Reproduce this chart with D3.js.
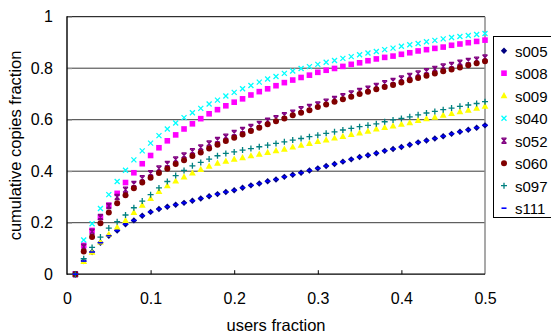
<!DOCTYPE html>
<html>
<head>
<meta charset="utf-8">
<script src="https://cdn.jsdelivr.net/npm/d3@7"></script>
<style>
  html, body { margin: 0; padding: 0; background: #fff; }
  svg { display: block; font-family: "Liberation Sans", Arial, Helvetica, sans-serif; }
</style>
</head>
<body>
<svg id="chart" width="551" height="335"></svg>
<script>
// ---------- data ----------
const usersFraction = [0.01,0.02,0.03,0.04,0.05,0.06,0.07,0.08,0.09,0.10,
  0.11,0.12,0.13,0.14,0.15,0.16,0.17,0.18,0.19,0.20,
  0.21,0.22,0.23,0.24,0.25,0.26,0.27,0.28,0.29,0.30,
  0.31,0.32,0.33,0.34,0.35,0.36,0.37,0.38,0.39,0.40,
  0.41,0.42,0.43,0.44,0.45,0.46,0.47,0.48,0.49,0.50];

const s005 = [0,0.051,0.086,0.122,0.149,0.170,0.194,0.209,0.227,0.242,0.253,0.262,0.270,
  0.277,0.285,0.294,0.303,0.311,0.319,0.326,0.336,0.345,0.352,0.361,0.368,
  0.378,0.386,0.394,0.403,0.411,0.420,0.428,0.437,0.446,0.455,0.462,0.470,0.479,
  0.486,0.494,0.503,0.512,0.519,0.527,0.536,0.545,0.553,0.561,0.569,0.578];
const s008 = [0,0.112,0.170,0.221,0.268,0.314,0.356,0.394,0.429,0.461,0.491,0.518,0.541,
  0.564,0.584,0.604,0.623,0.639,0.654,0.668,0.681,0.696,0.709,0.720,0.732,
  0.744,0.754,0.764,0.773,0.784,0.792,0.799,0.807,0.815,0.821,0.829,0.836,0.842,
  0.847,0.854,0.860,0.867,0.872,0.877,0.882,0.889,0.894,0.899,0.904,0.909];
const s009 = [0,0.050,0.086,0.125,0.155,0.183,0.209,0.240,0.268,0.294,0.322,0.344,0.362,
  0.378,0.393,0.407,0.420,0.431,0.439,0.447,0.453,0.460,0.466,0.473,0.480,
  0.486,0.494,0.501,0.508,0.516,0.522,0.529,0.535,0.543,0.549,0.556,0.564,0.570,
  0.576,0.583,0.589,0.597,0.604,0.610,0.618,0.624,0.631,0.637,0.645,0.653];
const s040 = [0,0.133,0.196,0.255,0.309,0.360,0.404,0.444,0.479,0.509,0.538,0.564,0.587,
  0.608,0.627,0.644,0.661,0.676,0.692,0.706,0.720,0.733,0.746,0.758,0.768,
  0.780,0.789,0.799,0.806,0.815,0.823,0.830,0.838,0.845,0.852,0.859,0.865,0.872,
  0.878,0.885,0.891,0.896,0.903,0.908,0.914,0.919,0.923,0.927,0.931,0.935];
const s052 = [0,0.106,0.165,0.222,0.265,0.300,0.328,0.350,0.372,0.392,0.410,0.428,0.445,
  0.461,0.477,0.492,0.507,0.521,0.534,0.548,0.560,0.571,0.583,0.596,0.605,
  0.617,0.627,0.640,0.649,0.659,0.670,0.680,0.691,0.702,0.711,0.720,0.731,0.741,
  0.750,0.760,0.770,0.779,0.788,0.797,0.806,0.812,0.821,0.828,0.833,0.841];
const s060 = [0,0.088,0.144,0.198,0.240,0.276,0.307,0.334,0.356,0.375,0.393,0.410,0.428,
  0.443,0.459,0.473,0.488,0.503,0.517,0.530,0.543,0.556,0.569,0.582,0.594,
  0.605,0.617,0.627,0.637,0.649,0.659,0.670,0.679,0.689,0.700,0.709,0.718,0.727,
  0.735,0.744,0.753,0.762,0.771,0.779,0.788,0.795,0.803,0.811,0.819,0.827];
const s097 = [0,0.060,0.104,0.144,0.179,0.204,0.230,0.258,0.284,0.309,0.335,0.360,0.383,
  0.403,0.421,0.434,0.447,0.460,0.469,0.475,0.482,0.488,0.495,0.501,0.508,
  0.514,0.521,0.527,0.534,0.540,0.547,0.553,0.560,0.566,0.573,0.578,0.584,0.592,
  0.599,0.605,0.611,0.619,0.626,0.632,0.639,0.645,0.652,0.657,0.663,0.670];
const s111 = [0,0.051,0.086,0.122,0.149,0.170,0.194,0.209,0.227,0.242,0.253,0.262,0.270,
  0.277,0.285,0.294,0.303,0.311,0.319,0.326,0.336,0.345,0.352,0.361,0.368,
  0.378,0.386,0.394,0.403,0.411,0.420,0.428,0.437,0.446,0.455,0.462,0.470,0.479,
  0.486,0.494,0.503,0.512,0.519,0.527,0.536,0.545,0.553,0.561,0.569,0.578];

const seriesNames = ["s005","s008","s009","s040","s052","s060","s097","s111"];
const seriesValues = [s005, s008, s009, s040, s052, s060, s097, s111];
const xTicks = [0, 0.1, 0.2, 0.3, 0.4, 0.5];
const yTicks = [0, 0.2, 0.4, 0.6, 0.8, 1];
const xTickLabels = ["0","0.1","0.2","0.3","0.4","0.5"];
const yTickLabels = ["0","0.2","0.4","0.6","0.8","1"];
const xTitle = "users fraction";
const yTitle = "cumulative copies fraction";

// ---------- styles ----------
const colors = ["#000080","#ff00ff","#ffff00","#00ffff","#800080","#800000","#008080","#0000ff"];
const shapes = ["diamond","square","triangle","x","star","circle","plus","dash"];

const svg = d3.select("#chart");
const L = 67, R = 485, T = 16.7, B = 274.2;
const x = d3.scaleLinear().domain([0, 0.5]).range([L, R]);
const y = d3.scaleLinear().domain([0, 1]).range([B, T]);

// gridlines
svg.append("g").selectAll("line").data(yTicks.filter(d => d > 0 && d < 1)).join("line")
  .attr("x1", L).attr("x2", R).attr("y1", d => y(d)).attr("y2", d => y(d))
  .attr("stroke", "#3a3a3a").attr("stroke-width", 1);

// frame
svg.append("line").attr("x1", L).attr("x2", R).attr("y1", T).attr("y2", T).attr("stroke", "#000").attr("stroke-width", 1);
svg.append("line").attr("x1", R).attr("x2", R).attr("y1", T).attr("y2", B).attr("stroke", "#8c8c8c").attr("stroke-width", 1.5);

// axes
const xAxis = d3.axisBottom(x).tickValues(xTicks).tickSize(-4).tickPadding(18)
  .tickFormat((d, i) => xTickLabels[i]);
const gx = svg.append("g").attr("transform", `translate(0,${B})`).call(xAxis);
gx.select(".domain").remove();
gx.selectAll(".tick line").attr("stroke", "#000").filter(d => d === 0 || d === 0.5).remove();
gx.selectAll(".tick text").attr("font-size", 16).attr("fill", "#000")
  .attr("font-family", '"Liberation Sans", Arial, sans-serif');

const yAxis = d3.axisLeft(y).tickValues(yTicks).tickSize(-5).tickPadding(14)
  .tickFormat((d, i) => yTickLabels[i]);
const gy = svg.append("g").attr("transform", `translate(${L},0)`).call(yAxis);
gy.select(".domain").remove();
gy.selectAll(".tick line").attr("stroke", "#999").filter(d => d === 0).remove();
gy.selectAll(".tick text").attr("font-size", 16).attr("fill", "#000")
  .attr("font-family", '"Liberation Sans", Arial, sans-serif');

svg.append("line").attr("x1", L).attr("x2", R).attr("y1", B).attr("y2", B).attr("stroke", "#000").attr("stroke-width", 1.2);
svg.append("line").attr("x1", L).attr("x2", L).attr("y1", T - 0.5).attr("y2", B + 0.5).attr("stroke", "#000").attr("stroke-width", 1.4);

// titles
svg.append("text").attr("x", (L + R) / 2).attr("y", 330.5).attr("text-anchor", "middle")
  .attr("font-size", 16.5).attr("fill", "#000").text(xTitle);
svg.append("text").attr("transform", `translate(21,${(T + B) / 2}) rotate(-90)`)
  .attr("text-anchor", "middle").attr("font-size", 16.5).attr("fill", "#000").text(yTitle);

// marker drawing
function drawMarker(g, shape, color, cx, cy) {
  switch (shape) {
    case "diamond":
      g.append("path").attr("d", `M${cx},${cy-3.2}L${cx+3.2},${cy}L${cx},${cy+3.2}L${cx-3.2},${cy}Z`).attr("fill", color);
      break;
    case "square":
      g.append("rect").attr("x", cx-2.8).attr("y", cy-2.8).attr("width", 5.6).attr("height", 5.6).attr("fill", color);
      break;
    case "triangle":
      g.append("path").attr("d", `M${cx},${cy-3.6}L${cx+3.4},${cy+2.6}L${cx-3.4},${cy+2.6}Z`).attr("fill", color);
      break;
    case "x":
      g.append("path").attr("d", `M${cx-2.5},${cy-2.5}L${cx+2.5},${cy+2.5}M${cx-2.5},${cy+2.5}L${cx+2.5},${cy-2.5}`)
        .attr("stroke", color).attr("stroke-width", 1.3).attr("fill", "none");
      break;
    case "star":
      g.append("path").attr("d", `M${cx-2.5},${cy-2.7}L${cx+2.5},${cy+2.7}M${cx-2.5},${cy+2.7}L${cx+2.5},${cy-2.7}M${cx},${cy-3}L${cx},${cy+3}M${cx-2.5},${cy-2.7}L${cx+2.5},${cy-2.7}M${cx-2.5},${cy+2.7}L${cx+2.5},${cy+2.7}`)
        .attr("stroke", color).attr("stroke-width", 1.2).attr("fill", "none");
      break;
    case "circle":
      g.append("circle").attr("cx", cx).attr("cy", cy).attr("r", 3).attr("fill", color);
      break;
    case "plus":
      g.append("path").attr("d", `M${cx-3},${cy}L${cx+3},${cy}M${cx},${cy-3}L${cx},${cy+3}`)
        .attr("stroke", color).attr("stroke-width", 1.3).attr("fill", "none");
      break;
    case "dash":
      g.append("rect").attr("x", cx-2.5).attr("y", cy-0.8).attr("width", 5).attr("height", 1.6).attr("fill", color);
      break;
  }
}

// points
seriesValues.forEach((vals, si) => {
  const g = svg.append("g").attr("class", "series " + seriesNames[si]);
  vals.forEach((v, i) => drawMarker(g, shapes[si], colors[si], x(usersFraction[i]), y(v)));
});

// legend
const lg = svg.append("g");
lg.append("rect").attr("x", 493.5).attr("y", 36.5).attr("width", 70).attr("height", 181)
  .attr("fill", "#fff").attr("stroke", "#000").attr("stroke-width", 1);
seriesNames.forEach((name, i) => {
  const cy = 50.7 + i * 22.5;
  drawMarker(lg, shapes[i], colors[i], 504, cy);
  lg.append("text").attr("x", 515).attr("y", cy + 6).attr("font-size", 15).attr("fill", "#000").text(name);
});
</script>
</body>
</html>
